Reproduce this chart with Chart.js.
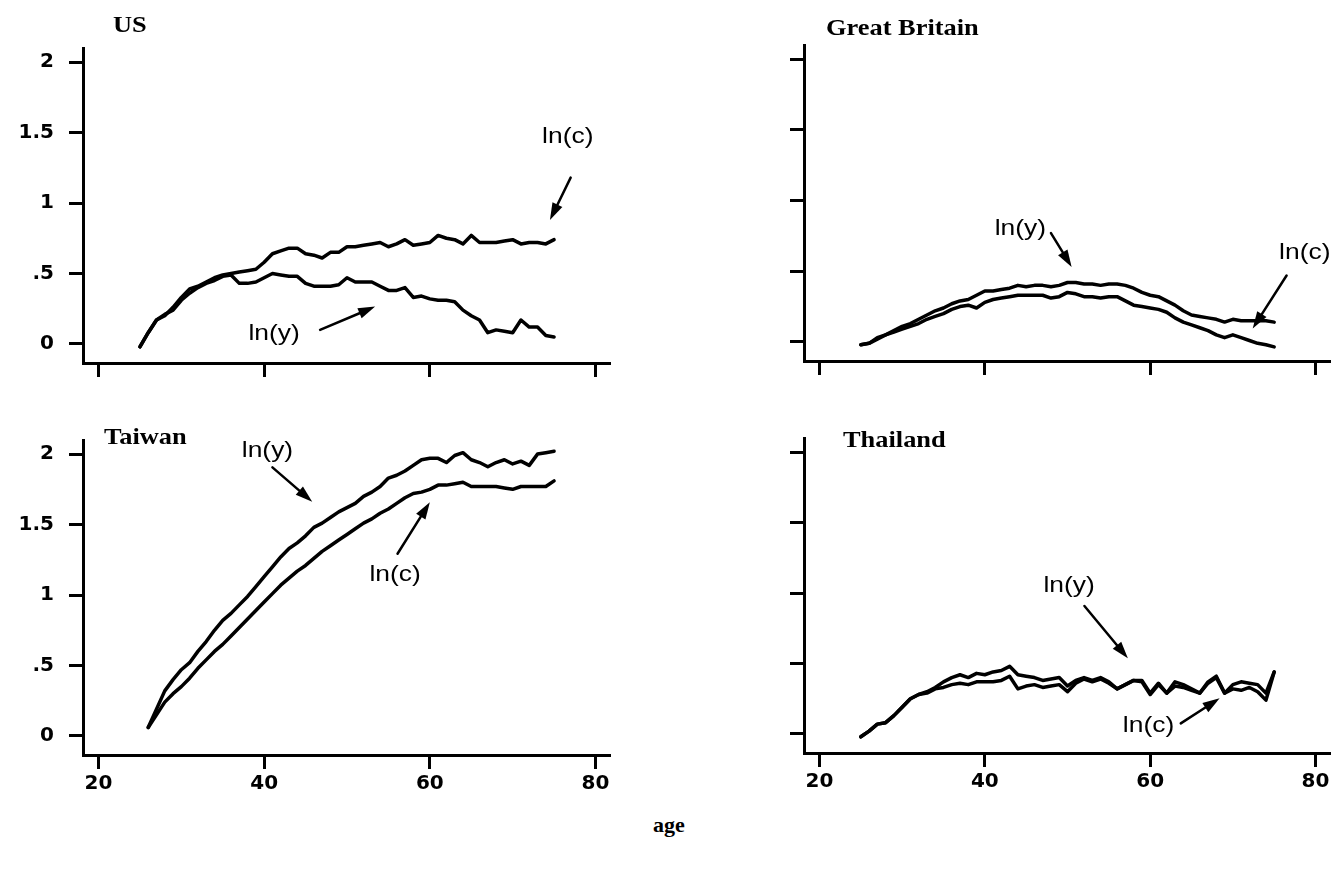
<!DOCTYPE html>
<html>
<head>
<meta charset="utf-8">
<script src="https://cdn.jsdelivr.net/npm/chart.js@4.4.1/dist/chart.umd.min.js"></script>
<style>
  html, body { margin: 0; background: #fff; }
  body { position: relative; width: 1338px; height: 875px; overflow: hidden; }
  canvas { position: absolute; }
  #xname { position: absolute; left: 0; top: 812px; width: 1338px; text-align: center;
           font: bold 22px "Liberation Serif", "Times New Roman", serif; color: #000; }
</style>
</head>
<body>
<canvas id="us" width="669" height="413" style="left:0;top:0"></canvas>
<canvas id="gb" width="617" height="411" style="left:721px;top:0"></canvas>
<canvas id="tw" width="669" height="405" style="left:0;top:400px"></canvas>
<canvas id="th" width="617" height="403" style="left:721px;top:400px"></canvas>
<div id="xname">age</div>
<script>
// Age profiles of log consumption and log income, by country.
const ages = [25, 26, 27, 28, 29, 30, 31, 32, 33, 34, 35, 36, 37, 38, 39, 40, 41, 42, 43, 44,
  45, 46, 47, 48, 49, 50, 51, 52, 53, 54, 55, 56, 57, 58, 59, 60, 61, 62, 63, 64,
  65, 66, 67, 68, 69, 70, 71, 72, 73, 74, 75];
const twAges = [26, 27, 28, 29, 30, 31, 32, 33, 34, 35, 36, 37, 38, 39, 40, 41, 42, 43, 44,
  45, 46, 47, 48, 49, 50, 51, 52, 53, 54, 55, 56, 57, 58, 59, 60, 61, 62, 63, 64,
  65, 66, 67, 68, 69, 70, 71, 72, 73, 74, 75];

const usLnC = [-0.02, 0.08, 0.17, 0.20, 0.26, 0.33, 0.39, 0.41, 0.44, 0.47,
  0.49, 0.50, 0.51, 0.52, 0.53, 0.58, 0.64, 0.66, 0.68, 0.68,
  0.64, 0.63, 0.61, 0.65, 0.65, 0.69, 0.69, 0.70, 0.71, 0.72,
  0.69, 0.71, 0.74, 0.70, 0.71, 0.72, 0.77, 0.75, 0.74, 0.71,
  0.77, 0.72, 0.72, 0.72, 0.73, 0.74, 0.71, 0.72, 0.72, 0.71, 0.74];
const usLnY = [-0.02, 0.08, 0.17, 0.21, 0.24, 0.31, 0.36, 0.40, 0.43, 0.45,
  0.48, 0.49, 0.43, 0.43, 0.44, 0.47, 0.50, 0.49, 0.48, 0.48,
  0.43, 0.41, 0.41, 0.41, 0.42, 0.47, 0.44, 0.44, 0.44, 0.41,
  0.38, 0.38, 0.40, 0.33, 0.34, 0.32, 0.31, 0.31, 0.30, 0.24,
  0.20, 0.17, 0.08, 0.10, 0.09, 0.08, 0.17, 0.12, 0.12, 0.06, 0.05];

const gbLnY = [-0.02, -0.01, 0.03, 0.05, 0.08, 0.11, 0.13, 0.16, 0.19, 0.22,
  0.24, 0.27, 0.29, 0.30, 0.33, 0.36, 0.36, 0.37, 0.38, 0.40,
  0.39, 0.40, 0.40, 0.39, 0.40, 0.42, 0.42, 0.41, 0.41, 0.40,
  0.41, 0.41, 0.40, 0.38, 0.35, 0.33, 0.32, 0.29, 0.26, 0.22,
  0.19, 0.18, 0.17, 0.16, 0.14, 0.16, 0.15, 0.15, 0.15, 0.15, 0.14];
const gbLnC = [-0.02, -0.01, 0.02, 0.05, 0.07, 0.09, 0.11, 0.13, 0.16, 0.18,
  0.20, 0.23, 0.25, 0.26, 0.24, 0.28, 0.30, 0.31, 0.32, 0.33,
  0.33, 0.33, 0.33, 0.31, 0.32, 0.35, 0.34, 0.32, 0.32, 0.31,
  0.32, 0.32, 0.29, 0.26, 0.25, 0.24, 0.23, 0.21, 0.17, 0.14,
  0.12, 0.10, 0.08, 0.05, 0.03, 0.05, 0.03, 0.01, -0.01, -0.02, -0.035];

const twLnY = [0.06, 0.19, 0.32, 0.40, 0.47, 0.52, 0.60, 0.67, 0.75, 0.82,
  0.87, 0.93, 0.99, 1.06, 1.13, 1.20, 1.27, 1.33, 1.37, 1.42,
  1.48, 1.51, 1.55, 1.59, 1.62, 1.65, 1.70, 1.73, 1.77, 1.83,
  1.85, 1.88, 1.92, 1.96, 1.97, 1.97, 1.94, 1.99, 2.01, 1.96,
  1.94, 1.91, 1.94, 1.96, 1.93, 1.95, 1.92, 2.00, 2.01, 2.02];
const twLnC = [0.06, 0.15, 0.24, 0.30, 0.35, 0.41, 0.48, 0.54, 0.60, 0.65,
  0.71, 0.77, 0.83, 0.89, 0.95, 1.01, 1.07, 1.12, 1.17, 1.21,
  1.26, 1.31, 1.35, 1.39, 1.43, 1.47, 1.51, 1.54, 1.58, 1.61,
  1.65, 1.69, 1.72, 1.73, 1.75, 1.78, 1.78, 1.79, 1.80, 1.77,
  1.77, 1.77, 1.77, 1.76, 1.75, 1.77, 1.77, 1.77, 1.77, 1.81];

const thLnY = [-0.02, 0.02, 0.07, 0.08, 0.13, 0.19, 0.25, 0.28, 0.30, 0.33,
  0.37, 0.40, 0.42, 0.40, 0.43, 0.42, 0.44, 0.45, 0.48, 0.42,
  0.41, 0.40, 0.38, 0.39, 0.40, 0.34, 0.38, 0.40, 0.38, 0.40,
  0.37, 0.32, 0.35, 0.38, 0.38, 0.29, 0.36, 0.29, 0.37, 0.35,
  0.32, 0.29, 0.37, 0.41, 0.29, 0.35, 0.37, 0.36, 0.35, 0.29, 0.44];
const thLnC = [-0.02, 0.02, 0.07, 0.08, 0.13, 0.19, 0.25, 0.28, 0.29, 0.32,
  0.33, 0.35, 0.36, 0.35, 0.37, 0.37, 0.37, 0.38, 0.41, 0.32,
  0.34, 0.35, 0.33, 0.34, 0.35, 0.30, 0.36, 0.39, 0.37, 0.39,
  0.36, 0.32, 0.35, 0.38, 0.37, 0.28, 0.35, 0.29, 0.34, 0.33,
  0.31, 0.29, 0.36, 0.40, 0.29, 0.32, 0.31, 0.33, 0.30, 0.24, 0.44];

const xTicks = [20, 40, 60, 80];
const xTickLabels = ['20', '40', '60', '80'];
const yTicks = [0, 0.5, 1, 1.5, 2];
const yTickLabels = ['0', '.5', '1', '1.5', '2'];

const TICK_FONT = { family: '"DejaVu Sans", Verdana, sans-serif', size: 20, weight: 'bold' };
const NOTE_FONT = '22px "Liberation Sans", Arial, sans-serif';
const TITLE_FONT = 'bold 24px "Liberation Serif", "Times New Roman", serif';

// lettering in these panels runs wide, so text is stretched sideways
function wideText(ctx, text, x, y, stretch) {
  ctx.save();
  ctx.translate(x, y);
  ctx.scale(stretch, 1);
  ctx.fillText(text, 0, 0);
  ctx.restore();
}

// titles, arrow labels and arrows; label/arrow anchors are in data units (age, log value)
const notesPlugin = {
  id: 'notes',
  afterDatasetsDraw(chart, args, opts) {
    const { ctx } = chart;
    const x = chart.scales.x, y = chart.scales.y;
    const px = p => [x.getPixelForValue(p[0]), y.getPixelForValue(p[1])];
    ctx.save();
    ctx.fillStyle = '#000';
    ctx.strokeStyle = '#000';

    ctx.font = TITLE_FONT;
    ctx.textAlign = 'left';
    ctx.textBaseline = 'alphabetic';
    wideText(ctx, opts.title, opts.titleAt[0], opts.titleAt[1], 1.1);

    ctx.font = NOTE_FONT;
    ctx.textAlign = 'center';
    ctx.textBaseline = 'middle';
    opts.labels.forEach(([text, age, val]) => {
      const [lx, ly] = px([age, val]);
      wideText(ctx, text, lx, ly, 1.2);
    });

    ctx.lineWidth = 2.5;
    ctx.lineCap = 'round';
    opts.arrows.forEach(([from, to]) => {
      const [x0, y0] = px(from);
      const [x1, y1] = px(to);
      const a = Math.atan2(y1 - y0, x1 - x0);
      const head = 17, half = 5.5;
      const bx = x1 - head * Math.cos(a), by = y1 - head * Math.sin(a);
      ctx.beginPath();
      ctx.moveTo(x0, y0);
      ctx.lineTo(bx, by);
      ctx.stroke();
      ctx.beginPath();
      ctx.moveTo(x1, y1);
      ctx.lineTo(bx + half * Math.sin(a), by - half * Math.cos(a));
      ctx.lineTo(bx - half * Math.sin(a), by + half * Math.cos(a));
      ctx.closePath();
      ctx.fill();
    });
    ctx.restore();
  }
};

function series(xs, vals) {
  return {
    data: xs.map((a, i) => ({ x: a, y: vals[i] })),
    borderColor: '#000',
    borderWidth: 3.5,
    pointRadius: 0,
    tension: 0,
    borderJoinStyle: 'round',
    borderCapStyle: 'round',
    fill: false
  };
}

function axisGrid() {
  return { drawOnChartArea: false, drawTicks: true, tickLength: 14, tickWidth: 3, tickColor: '#000' };
}

function makePanel(p) {
  return new Chart(document.getElementById(p.id), {
    type: 'line',
    data: { datasets: p.lines.map(l => series(p.xs, l)) },
    plugins: [notesPlugin],
    options: {
      responsive: false,
      animation: false,
      events: [],
      layout: { padding: { top: p.top, right: p.right, left: 0, bottom: 0 } },
      scales: {
        x: {
          type: 'linear',
          min: 18.13,
          max: 81.75,
          afterBuildTicks: s => { s.ticks = xTicks.map(v => ({ value: v })); },
          afterFit: s => { s.height = 50; },
          grid: axisGrid(),
          border: { display: true, color: '#000', width: 3 },
          ticks: {
            display: p.xLabels,
            autoSkip: false,
            maxRotation: 0,
            padding: 3,
            color: '#000',
            font: TICK_FONT,
            callback: (v, i) => xTickLabels[i]
          }
        },
        y: {
          min: -0.135,
          max: 2.1,
          afterBuildTicks: s => { s.ticks = yTicks.map(v => ({ value: v })); },
          afterFit: s => { s.width = 83; },
          grid: axisGrid(),
          border: { display: true, color: '#000', width: 3 },
          ticks: {
            display: p.yLabels,
            autoSkip: false,
            padding: 15,
            color: '#000',
            font: TICK_FONT,
            callback: (v, i) => yTickLabels[i]
          }
        }
      },
      plugins: {
        legend: { display: false },
        tooltip: { enabled: false },
        notes: { title: p.title, titleAt: p.titleAt, labels: p.labels, arrows: p.arrows }
      }
    }
  });
}

makePanel({
  id: 'us', title: 'US', titleAt: [113, 32], top: 48, right: 59,
  xs: ages, lines: [usLnC, usLnY], xLabels: false, yLabels: true,
  labels: [['ln(c)', 76.65, 1.47], ['ln(y)', 41.2, 0.07]],
  arrows: [[[77.0, 1.18], [74.5, 0.88]], [[46.75, 0.10], [53.4, 0.265]]]
});

makePanel({
  id: 'gb', title: 'Great Britain', titleAt: [105, 35], top: 45, right: 8,
  xs: ages, lines: [gbLnY, gbLnC], xLabels: false, yLabels: false,
  labels: [['ln(y)', 44.3, 0.80], ['ln(c)', 78.7, 0.63]],
  arrows: [[[48.0, 0.77], [50.5, 0.53]], [[76.5, 0.47], [72.4, 0.095]]]
});

makePanel({
  id: 'tw', title: 'Taiwan', titleAt: [104, 44], top: 40, right: 59,
  xs: twAges, lines: [twLnY, twLnC], xLabels: true, yLabels: true,
  labels: [['ln(y)', 40.4, 2.02], ['ln(c)', 55.8, 1.14]],
  arrows: [[[41.0, 1.906], [45.8, 1.662]], [[56.1, 1.293], [60.0, 1.658]]]
});

makePanel({
  id: 'th', title: 'Thailand', titleAt: [122, 47], top: 38, right: 8,
  xs: ages, lines: [thLnY, thLnC], xLabels: true, yLabels: false,
  labels: [['ln(y)', 50.2, 1.05], ['ln(c)', 59.8, 0.056]],
  arrows: [[[52.05, 0.908], [57.3, 0.537]], [[63.7, 0.075], [68.4, 0.253]]]
});
</script>
</body>
</html>
